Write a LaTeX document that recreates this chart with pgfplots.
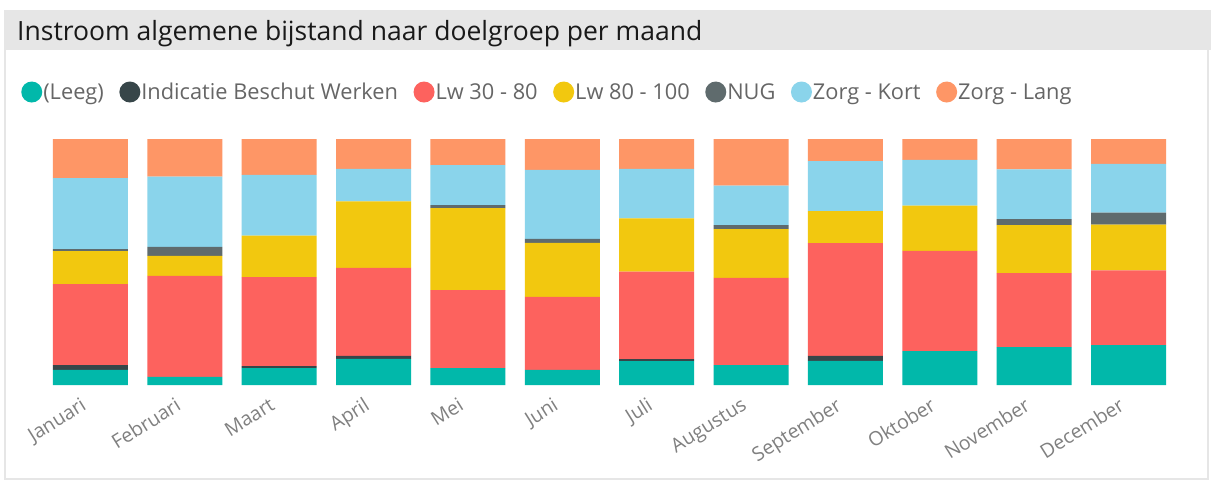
\documentclass[border=0pt]{standalone}
\usepackage{pgfplots}
\usepackage{pgfplotstable}
\pgfplotsset{compat=1.18}
\usepackage{fontspec}
\setmainfont{Open Sans}

\definecolor{cLeeg}{HTML}{01B8AA}
\definecolor{cIBW}{HTML}{374649}
\definecolor{cLwA}{HTML}{FD625E}
\definecolor{cLwB}{HTML}{F2C80F}
\definecolor{cNUG}{HTML}{5F6B6D}
\definecolor{cKort}{HTML}{8AD4EB}
\definecolor{cLang}{HTML}{FE9666}
\definecolor{titlebg}{HTML}{E6E6E6}
\definecolor{frame}{HTML}{E6E6E6}
\definecolor{legtext}{HTML}{666666}
\definecolor{ticktext}{HTML}{808080}

% share per month, in percent
\pgfplotstableread{
m  leeg ibw  lwa  lwb  nug  kort lang
0  6.1  2.0  32.9 13.4 0.8  28.9 15.9
1  3.3  0.0  41.1 8.1  3.7  28.5 15.3
2  6.9  0.8  36.2 16.8 0.0  24.7 14.6
3  10.6 1.2  35.8 27.0 0.0  13.3 12.1
4  6.9  0.0  31.7 33.3 1.2  16.3 10.6
5  6.1  0.0  29.7 22.0 1.6  28.0 12.6
6  9.7  0.8  35.6 21.6 0.0  20.2 12.1
7  8.1  0.0  35.4 19.9 1.6  16.0 19.0
8  9.8  2.0  45.9 13.0 0.0  20.3 9.0
9  13.8 0.0  40.7 18.4 0.0  18.6 8.5
10 15.4 0.0  30.1 19.5 2.4  20.3 12.3
11 16.2 0.0  30.4 18.6 4.9  19.8 10.1
}\maand

\begin{document}
\begin{tikzpicture}[x=1pt,y=1pt]
\path[fill=white] (0,0) rectangle (1211,-482);
\draw[frame, line width=2pt] (5,-11) rectangle (1208,-479);
\fill[titlebg] (4,-10) rectangle (1211,-50);
\node[anchor=west, inner sep=0pt, font=\fontsize{26.5}{30}\selectfont, text=black!90] at (17,-34) {Instroom algemene bijstand naar doelgroep per maand};

\begin{axis}[
    at={(43.3pt,-385pt)}, anchor=south west,
    scale only axis,
    width=1132.4pt, height=246pt,
    ybar stacked,
    bar width=75pt,
    xmin=-0.5, xmax=11.5,
    ymin=0, ymax=100,
    axis line style={draw=none},
    tick style={draw=none},
    ytick=\empty,
    xtick={0,...,11},
    xticklabels={Januari,Februari,Maart,April,Mei,Juni,Juli,Augustus,September,Oktober,November,December},
    x tick label style={rotate=32, anchor=north east, text=ticktext,
        font=\fontsize{19.5}{22}\selectfont, inner sep=2pt, xshift=-13pt, yshift=-2pt},
    legend image code/.code={\fill[#1,draw=none] (10.5pt,0pt) circle (10.5pt);},
    legend columns=-1,
    legend style={at={(axis description cs:-0.0223,1.191)}, anchor=west,
        draw=none, fill=none, text=legtext,
        font=\fontsize{21.8}{24}\selectfont,
        /tikz/every even column/.append style={column sep=14.5pt},
        nodes={inner xsep=1pt}},
    clip=false,
]
\addplot[fill=cLeeg, draw=none] table[x=m, y=leeg] {\maand};
\addplot[fill=cIBW, draw=none] table[x=m, y=ibw] {\maand};
\addplot[fill=cLwA, draw=none] table[x=m, y=lwa] {\maand};
\addplot[fill=cLwB, draw=none] table[x=m, y=lwb] {\maand};
\addplot[fill=cNUG, draw=none] table[x=m, y=nug] {\maand};
\addplot[fill=cKort, draw=none] table[x=m, y=kort] {\maand};
\addplot[fill=cLang, draw=none] table[x=m, y=lang] {\maand};
\legend{(Leeg),Indicatie Beschut Werken,Lw 30 - 80,Lw 80 - 100,NUG,Zorg - Kort,Zorg - Lang}
\end{axis}
\end{tikzpicture}
\end{document}
